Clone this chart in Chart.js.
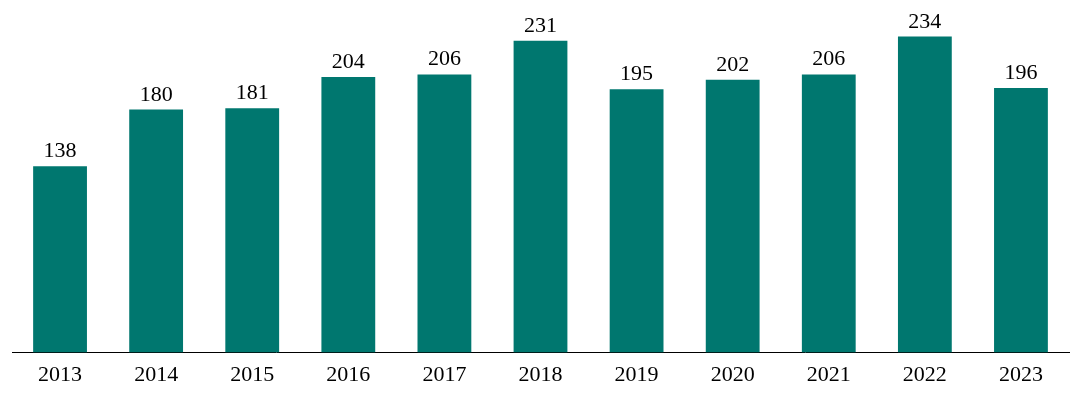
<!DOCTYPE html>
<html>
<head>
<meta charset="utf-8">
<script src="https://cdn.jsdelivr.net/npm/chart.js@4/dist/chart.umd.min.js"></script>
<style>
  html, body { margin: 0; padding: 0; background: #ffffff; }
  #wrap { width: 1088px; height: 394px; }
</style>
</head>
<body>
<div id="wrap"><canvas id="chart"></canvas></div>
<script>
// years and values
var years = ['2013', '2014', '2015', '2016', '2017', '2018', '2019', '2020', '2021', '2022', '2023'];
var values = [138, 180, 181, 204, 206, 231, 195, 202, 206, 234, 196];

var FONT = "'Liberation Serif', 'Times New Roman', serif";

// value labels above each bar
var barLabels = {
  id: 'barLabels',
  afterDatasetsDraw: function (chart) {
    var ctx = chart.ctx;
    var meta = chart.getDatasetMeta(0);
    ctx.save();
    ctx.font = '22px ' + FONT;
    ctx.fillStyle = '#000000';
    ctx.textAlign = 'center';
    ctx.textBaseline = 'alphabetic';
    meta.data.forEach(function (bar, i) {
      ctx.fillText(String(values[i]), bar.x, bar.y - 9);
    });
    ctx.restore();
  }
};

new Chart(document.getElementById('chart'), {
  type: 'bar',
  data: {
    labels: years,
    datasets: [{
      data: values,
      backgroundColor: '#00776F',
      borderWidth: 0,
      barPercentage: 0.56,
      categoryPercentage: 1
    }]
  },
  options: {
    responsive: true,
    maintainAspectRatio: false,
    animation: false,
    layout: { padding: { left: 12, right: 19, top: 15, bottom: 5 } },
    plugins: {
      legend: { display: false },
      tooltip: { enabled: false }
    },
    scales: {
      x: {
        grid: { display: false },
        border: { display: true, color: '#000000', width: 1 },
        ticks: {
          color: '#000000',
          padding: 1,
          font: { family: FONT, size: 22 }
        }
      },
      y: {
        display: false,
        min: 0,
        max: 250
      }
    }
  },
  plugins: [barLabels]
});
</script>
</body>
</html>
